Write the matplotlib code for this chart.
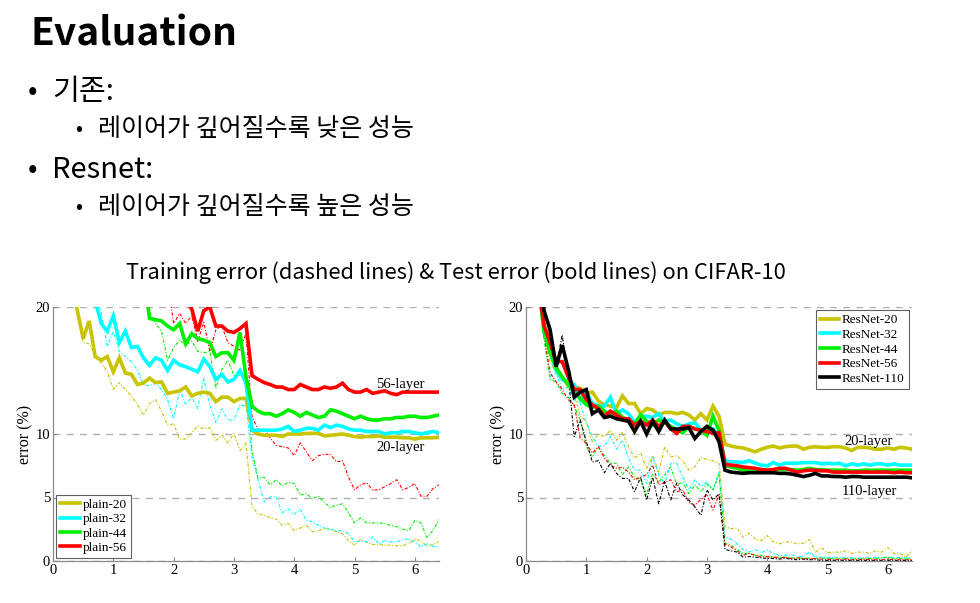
import numpy as np
import matplotlib
matplotlib.use("Agg")
import matplotlib.pyplot as plt

nan = np.nan

# iterations (1e4) for each sampled point
x_plain = np.round(np.arange(0.3, 6.45, 0.1), 1)
x_res = np.round(np.arange(0.2, 6.45, 0.1), 1)

# ---- plain nets: test error (bold) and training error (dashed) ----
plain20_test = [23, 19.8, 17.5, 18.9, 16.1, 15.8, 16.1, 14.9, 16.0, 14.8,
                14.7, 13.9, 14.0, 14.4, 14.05, 14.1, 13.2, 13.3, 13.4, 13.7,
                13.0, 13.2, 13.3, 13.2, 12.55, 12.9, 12.9, 12.55, 12.8, 12.8,
                10.3, 10.0, 9.9, 9.9, 9.9, 9.8, 10.0, 10.0, 10.0, 10.05,
                10.05, 10.05, 9.85, 9.9, 9.95, 10.0, 9.9, 9.8, 9.75, 9.8,
                9.8, 9.85, 9.75, 9.75, 9.75, 9.7, 9.7, 9.6, 9.7, 9.7,
                9.7, 9.75]
plain20_train = [23, 19.5, 17.2, 17.1, 16.3, 15.6, 14.9, 13.5, 14.05, 13.5,
                 13.0, 12.3, 11.5, 12.4, 12.7, 11.8, 10.7, 10.8, 9.6, 9.6,
                 10.1, 10.6, 10.4, 10.5, 9.5, 9.9, 9.3, 10.05, 8.7, 9.3,
                 4.3, 3.7, 3.6, 3.4, 3.3, 2.8, 2.95, 2.4, 2.6, 2.8,
                 2.3, 2.4, 2.55, 2.5, 2.3, 2.15, 1.6, 1.25, 1.7, 1.5,
                 1.3, 1.3, 1.25, 1.25, 1.2, 1.2, 1.4, 1.7, 1.6, 1.15,
                 1.3, 1.5]
plain32_test = [nan, nan, nan, nan, 20.5, 18.7, 18.1, 19.3, 17.2, 18.1,
                16.8, 16.9, 16.0, 15.4, 16.0, 15.8, 15.0, 15.8, 15.45, 15.3,
                15.1, 14.9, 15.9, 15.3, 14.3, 14.7, 14.1, 14.3, 15.0, 14.0,
                10.3, 10.3, 10.3, 10.3, 10.3, 10.4, 10.6, 10.2, 10.3, 10.45,
                10.45, 10.3, 10.7, 10.5, 10.7, 10.6, 10.4, 10.3, 10.3, 10.2,
                10.2, 10.2, 10.0, 10.1, 10.1, 10.2, 10.2, 10.1, 10.0, 10.1,
                10.2, 10.1]
plain32_train = [nan, nan, nan, nan, 22, 19.5, 16.9, 18.1, 16.5, 16.1,
                 15.7, 15.05, 13.9, 13.8, 14.0, 13.5, 12.7, 11.2, 13.5, 12.3,
                 12.9, 12.0, 14.4, 12.3, 10.9, 12.0, 11.1, 11.1, 12.3, 12.2,
                 8.2, 6.4, 4.65, 5.05, 5.05, 3.8, 4.1, 3.7, 4.05, 3.2,
                 3.1, 2.8, 2.6, 2.5, 2.4, 2.4, 2.15, 1.5, 1.6, 1.5,
                 1.9, 1.35, 1.6, 1.5, 1.5, 1.7, 1.75, 1.5, 1.1, 1.35,
                 1.15, 1.15]
plain44_test = [nan, nan, nan, nan, nan, nan, nan, nan, nan, nan,
                nan, nan, 23, 19.1, 19.0, 18.9, 18.5, 18.2, 18.7, 17.1,
                17.9, 17.5, 17.4, 17.2, 16.1, 16.4, 16.4, 15.8, 18.0, 14.5,
                12.2, 11.8, 11.6, 11.6, 11.4, 11.6, 11.9, 11.7, 11.4, 11.7,
                11.5, 11.3, 11.4, 11.9, 11.8, 11.6, 11.4, 11.2, 11.4, 11.2,
                11.1, 11.1, 11.2, 11.2, 11.3, 11.3, 11.4, 11.4, 11.3, 11.3,
                11.4, 11.5]
plain44_train = [nan, nan, nan, nan, nan, nan, nan, nan, nan, nan,
                 nan, nan, 22, 19.6, 18.7, 18.1, 15.8, 16.8, 17.4, 17.0,
                 17.3, 16.5, 16.4, 16.5, 13.6, 15.1, 15.8, 14.6, 14.6, 14.5,
                 8.7, 6.5, 6.6, 6.0, 6.4, 5.9, 6.2, 6.1, 5.2, 5.3,
                 4.9, 5.1, 4.6, 4.2, 4.4, 4.5, 3.8, 3.0, 3.4, 3.0,
                 3.0, 3.0, 2.95, 2.8, 2.7, 2.5, 2.4, 3.2, 3.0, 1.85,
                 2.4, 3.25]
plain56_test = [nan, nan, nan, nan, nan, nan, nan, nan, nan, nan,
                nan, nan, nan, nan, nan, nan, nan, nan, nan, 20.5,
                19.85, 18.1, 19.7, 20.0, 18.5, 18.5, 18.1, 18.0, 18.3, 18.7,
                14.6, 14.3, 14.05, 13.9, 13.7, 13.7, 13.5, 13.5, 13.9, 13.7,
                13.5, 13.5, 13.7, 13.6, 13.7, 14.0, 13.5, 13.3, 13.3, 13.5,
                13.2, 13.3, 13.4, 13.2, 13.1, 13.3, 13.3, 13.3, 13.3, 13.3,
                13.3, 13.3]
plain56_train = [nan, nan, nan, nan, nan, nan, nan, nan, nan, nan,
                 nan, nan, nan, nan, nan, nan, 22, 18.7, 19.5, 18.7,
                 19.3, 17.3, 18.8, 16.5, 18.2, 18.5, 17.2, 16.9, 16.6, 17.9,
                 11.4, 10.3, 10.4, 9.7, 9.1, 9.0, 8.9, 8.3, 9.3, 8.6,
                 7.9, 8.3, 8.4, 8.4, 7.8, 7.9, 6.6, 5.6, 6.0, 6.15,
                 5.6, 5.6, 5.85, 6.1, 6.4, 5.6, 5.8, 6.1, 5.1, 5.1,
                 5.7, 6.0]

# ---- ResNets ----
res20_test = [22, 18.6, 17.4, 15.3, 14.4, 13.9, 13.7, 13.6, 13.2, 13.3,
              12.6, 12.3, 12.2, 12.1, 13.0, 12.4, 12.4, 11.6, 12.0, 11.9,
              11.5, 11.7, 11.7, 11.6, 11.7, 11.5, 11.1, 11.6, 11.1, 12.2,
              11.4, 9.2, 9.05, 8.95, 8.9, 8.75, 8.6, 8.8, 8.95, 9.05,
              8.9, 9.0, 9.05, 9.05, 8.8, 8.95, 9.0, 8.95, 8.95, 9.0,
              9.0, 8.9, 8.7, 8.95, 8.95, 8.9, 8.8, 8.8, 8.9, 8.8,
              8.95, 8.9, 8.8]
res32_test = [22, 18.2, 16.5, 15.0, 14.3, 14.05, 13.9, 12.7, 13.3, 12.4,
              12.2, 12.2, 12.9, 11.6, 11.9, 11.6, 10.9, 11.4, 11.4, 11.3,
              11.6, 11.0, 11.1, 10.8, 10.6, 10.8, 10.9, 10.3, 10.2, 10.4,
              9.9, 7.9, 7.8, 7.8, 7.75, 7.9, 7.7, 7.55, 7.5, 7.75,
              7.55, 7.7, 7.7, 7.7, 7.75, 7.75, 7.75, 7.65, 7.7, 7.65,
              7.7, 7.5, 7.65, 7.55, 7.65, 7.55, 7.65, 7.65, 7.55, 7.65,
              7.55, 7.55, 7.55]
res44_test = [22, 18.0, 16.4, 15.2, 14.5, 13.9, 13.3, 12.8, 12.3, 12.1,
              12.2, 11.8, 11.5, 11.8, 11.3, 11.1, 10.8, 11.5, 11.0, 10.7,
              11.1, 10.9, 10.6, 10.3, 10.1, 10.6, 10.4, 10.3, 9.9, 11.4,
              10.3, 7.55, 7.4, 7.3, 7.15, 7.15, 7.2, 7.2, 7.15, 7.15,
              7.2, 7.2, 7.2, 7.15, 7.2, 7.3, 7.2, 7.2, 7.15, 7.15,
              7.15, 7.15, 7.1, 7.1, 7.15, 7.15, 7.15, 7.15, 7.15, 7.15,
              7.15, 7.15, 7.15]
res56_test = [22, 18.5, 17.2, 15.7, 15.7, 14.5, 13.5, 13.5, 12.7, 12.3,
              12.0, 11.4, 11.8, 11.5, 11.2, 11.2, 10.7, 11.0, 10.7, 11.1,
              10.6, 11.0, 10.4, 10.05, 10.6, 10.6, 10.4, 10.3, 10.2, 10.05,
              10.1, 7.6, 7.55, 7.5, 7.4, 7.35, 7.3, 7.2, 7.15, 7.2,
              7.3, 7.3, 7.15, 7.0, 7.1, 7.15, 7.15, 7.1, 7.1, 7.0,
              7.0, 7.0, 7.0, 7.0, 7.0, 7.0, 7.0, 7.0, 7.0, 6.95,
              7.0, 6.95, 6.95]
res110_test = [24, 19.7, 18.2, 15.3, 17.0, 15.1, 12.9, 13.3, 13.5, 11.6,
               11.9, 11.3, 11.4, 11.2, 11.1, 11.0, 10.2, 11.0, 10.0, 11.0,
               10.2, 11.1, 10.4, 10.4, 10.4, 10.5, 9.65, 10.2, 10.6, 10.3,
               9.4, 7.15, 7.0, 6.95, 6.9, 6.95, 6.95, 6.95, 6.95, 6.95,
               6.9, 6.9, 6.85, 6.75, 6.65, 6.75, 6.9, 6.7, 6.7, 6.65,
               6.65, 6.6, 6.65, 6.65, 6.6, 6.6, 6.6, 6.6, 6.6, 6.6,
               6.6, 6.6, 6.55]
res20_train = [22, 18.0, 15.7, 14.8, 14.3, 13.6, 13.2, 11.4, 11.0, 9.4,
               10.0, 9.8, 10.3, 9.5, 10.1, 9.0, 8.1, 8.5, 7.3, 8.3,
               7.0, 9.0, 8.2, 8.3, 7.9, 7.15, 7.4, 8.15, 8.0, 7.9,
               7.7, 2.7, 2.55, 2.6, 1.85, 2.2, 1.75, 1.6, 2.0, 1.5,
               1.35, 1.5, 1.5, 1.35, 1.4, 1.7, 0.7, 1.05, 0.65, 0.7,
               0.7, 0.8, 0.6, 0.7, 0.7, 0.6, 0.8, 0.7, 1.05, 0.6,
               0.6, 0.3, 0.85]
res32_train = [22, 17.5, 14.5, 14.8, 13.5, 13.7, 12.7, 12.4, 10.9, 9.8,
               9.05, 9.05, 9.8, 8.8, 9.5, 8.1, 7.15, 7.15, 6.1, 8.2,
               6.8, 6.1, 7.7, 7.7, 6.6, 5.6, 6.4, 5.9, 6.2, 5.6,
               7.0, 1.9, 1.7, 1.35, 0.9, 0.7, 0.9, 0.65, 0.85, 0.6,
               0.45, 0.45, 0.5, 0.35, 0.35, 0.7, 0.3, 0.3, 0.25, 0.3,
               0.25, 0.3, 0.25, 0.2, 0.25, 0.25, 0.3, 0.25, 0.3, 0.25,
               0.3, 0.25, 0.25]
res44_train = [22, 17.5, 14.3, 14.1, 13.2, 12.9, 12.2, 11.1, 9.0, 8.2,
               9.0, 8.3, 7.7, 7.7, 6.8, 7.4, 6.6, 6.4, 5.25, 6.9,
               6.2, 6.8, 7.4, 6.0, 6.2, 5.3, 6.0, 5.45, 6.05, 5.6,
               6.8, 1.4, 1.25, 0.9, 0.6, 0.6, 0.45, 0.45, 0.35, 0.3,
               0.3, 0.3, 0.25, 0.2, 0.25, 0.2, 0.2, 0.25, 0.2, 0.2,
               0.15, 0.2, 0.15, 0.2, 0.15, 0.2, 0.2, 0.25, 0.3, 0.2,
               0.2, 0.15, 0.2]
res56_train = [22, 17.8, 14.8, 14.1, 13.5, 12.7, 12.3, 9.65, 9.25, 8.5,
               9.0, 8.1, 7.55, 7.3, 7.4, 7.0, 6.4, 6.6, 6.8, 7.55,
               6.0, 6.2, 6.4, 5.45, 5.6, 4.6, 4.4, 4.85, 5.25, 4.0,
               5.2, 1.3, 1.1, 0.8, 0.45, 0.6, 0.45, 0.3, 0.35, 0.3,
               0.25, 0.3, 0.2, 0.25, 0.2, 0.15, 0.2, 0.15, 0.1, 0.15,
               0.1, 0.15, 0.1, 0.1, 0.15, 0.1, 0.1, 0.1, 0.15, 0.1,
               0.1, 0.1, 0.1]
res110_train = [24, 19.5, 18.0, 15.3, 17.8, 14.5, 9.8, 11.1, 9.4, 7.8,
                7.9, 6.95, 7.7, 6.9, 6.5, 6.5, 5.45, 6.6, 4.8, 6.6,
                4.5, 6.3, 4.8, 6.15, 5.2, 4.8, 4.25, 3.6, 5.6, 4.8,
                5.3, 0.9, 0.8, 0.7, 0.3, 0.35, 0.3, 0.25, 0.2, 0.2,
                0.15, 0.2, 0.15, 0.1, 0.15, 0.1, 0.1, 0.05, 0.05, 0.05,
                0.05, 0.05, 0.05, 0.05, 0.05, 0.05, 0.05, 0.05, 0.05, 0.05,
                0.05, 0.05, 0.05]

plain_labels = ["plain-20", "plain-32", "plain-44", "plain-56"]
res_labels = ["ResNet-20", "ResNet-32", "ResNet-44", "ResNet-56", "ResNet-110"]
colors = ["#c8c400", "#00ffff", "#00ee00", "#ff0000", "#000000"]

plain_test = [plain20_test, plain32_test, plain44_test, plain56_test]
plain_train = [plain20_train, plain32_train, plain44_train, plain56_train]
res_test = [res20_test, res32_test, res44_test, res56_test, res110_test]
res_train = [res20_train, res32_train, res44_train, res56_train, res110_train]

yticks = [0, 5, 10, 20]
xticks = [0, 1, 2, 3, 4, 5, 6]

slide_font = ["Noto Sans CJK KR", "DejaVu Sans"]
serif = "Liberation Serif"

fig = plt.figure(figsize=(9.8, 6.03), dpi=100)
fig.patch.set_facecolor("white")

# slide text
fig.text(30 / 980, 1 - 45 / 603, "Evaluation", fontsize=28, fontweight="bold",
         family=slide_font, va="baseline", ha="left")
fig.text(28 / 980, 1 - 92 / 603, "•", fontsize=20, family=slide_font, va="center")
fig.text(52 / 980, 1 - 92 / 603, "기존:", fontsize=21, family=slide_font, va="center")
fig.text(75 / 980, 1 - 129 / 603, "•", fontsize=15, family=slide_font, va="center")
fig.text(98 / 980, 1 - 129 / 603, "레이어가 깊어질수록 낮은 성능", fontsize=18,
         family=slide_font, va="center")
fig.text(28 / 980, 1 - 170 / 603, "•", fontsize=20, family=slide_font, va="center")
fig.text(52 / 980, 1 - 170 / 603, "Resnet:", fontsize=21, family=slide_font, va="center")
fig.text(75 / 980, 1 - 207 / 603, "•", fontsize=15, family=slide_font, va="center")
fig.text(98 / 980, 1 - 207 / 603, "레이어가 깊어질수록 높은 성능", fontsize=18,
         family=slide_font, va="center")
fig.text(456 / 980, 1 - 273 / 603,
         "Training error (dashed lines) & Test error (bold lines) on CIFAR-10",
         fontsize=15.8, family=slide_font, ha="center", va="center")


def style_axes(ax):
    ax.set_xlim(0, 6.4)
    ax.set_ylim(0, 20)
    ax.set_xticks(xticks)
    ax.set_yticks(yticks)
    for s in ("top", "right"):
        ax.spines[s].set_visible(False)
    for s in ("left", "bottom"):
        ax.spines[s].set_color("#8a8a8a")
        ax.spines[s].set_linewidth(0.9)
    ax.tick_params(direction="in", length=3, color="#8a8a8a", labelsize=10.5, pad=2)
    for lab in ax.get_xticklabels() + ax.get_yticklabels():
        lab.set_family(serif)
    ax.yaxis.grid(True, linestyle=(0, (5, 4.5)), color="#b0b0b0", linewidth=1.0)
    ax.set_axisbelow(True)
    ax.set_ylabel("error (%)", family=serif, fontsize=11.5)
    ax.yaxis.set_label_coords(-0.052, 0.5)


train_ls = (0, (3, 1.5, 1, 1.5))

ax1 = fig.add_axes([53 / 980, 1 - 561 / 603, 386 / 980, 254 / 603])
for y, c in zip(plain_train, colors):
    ax1.plot(x_plain, y, color=c, lw=0.8, ls=train_ls)
for y, c, lab in zip(plain_test, colors, plain_labels):
    ax1.plot(x_plain, y, color=c, lw=2.6, label=lab, solid_joinstyle="miter")
style_axes(ax1)
ax1.text(5.76, 13.9, "56-layer", family=serif, fontsize=10.5, ha="center", va="center")
ax1.text(5.76, 8.9, "20-layer", family=serif, fontsize=10.5, ha="center", va="center")
leg1 = ax1.legend(loc="lower left", prop={"family": serif, "size": 9.5},
                  fancybox=False, edgecolor="#606060", framealpha=1,
                  handlelength=1.5, handletextpad=0.2, labelspacing=0.15,
                  borderpad=0.3, borderaxespad=0.25)
leg1.get_frame().set_linewidth(0.8)

ax2 = fig.add_axes([526 / 980, 1 - 561 / 603, 386 / 980, 254 / 603])
for y, c in zip(res_train, colors):
    ax2.plot(x_res, y, color=c, lw=0.8, ls=train_ls)
for y, c, lab in zip(res_test, colors, res_labels):
    ax2.plot(x_res, y, color=c, lw=2.6, label=lab, solid_joinstyle="miter")
style_axes(ax2)
ax2.text(5.68, 9.4, "20-layer", family=serif, fontsize=10.5, ha="center", va="center")
ax2.text(5.69, 5.5, "110-layer", family=serif, fontsize=10.5, ha="center", va="center")
leg2 = ax2.legend(loc="upper right", prop={"family": serif, "size": 9.5},
                  fancybox=False, edgecolor="#606060", framealpha=1,
                  handlelength=1.5, handletextpad=0.2, labelspacing=0.18,
                  borderpad=0.3, borderaxespad=0.25)
leg2.get_frame().set_linewidth(0.8)

fig.savefig("out.png", dpi=100)
